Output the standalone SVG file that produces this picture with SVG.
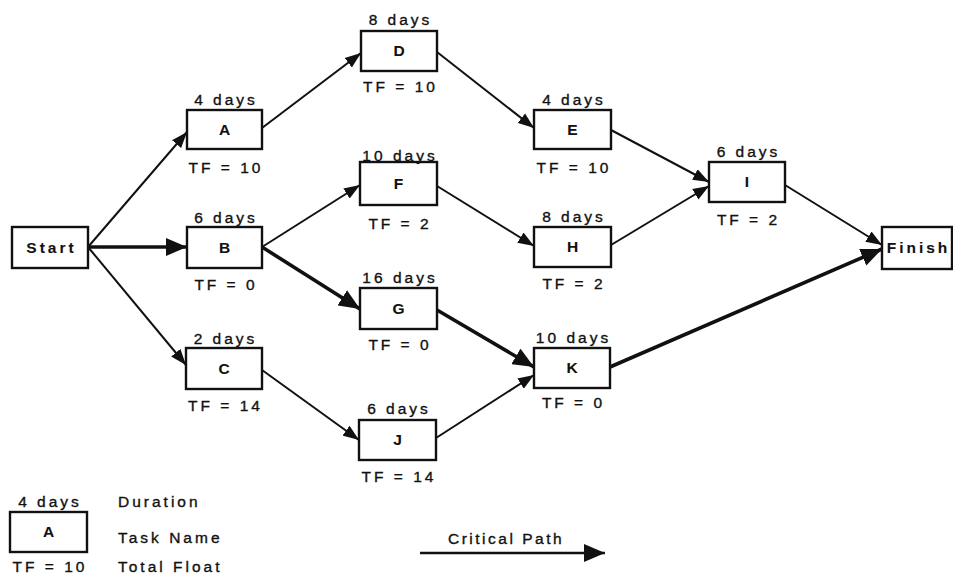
<svg xmlns="http://www.w3.org/2000/svg" width="953" height="576" viewBox="0 0 953 576">
<style>
text{font-family:"Liberation Sans",Arial,sans-serif;font-size:15.5px;letter-spacing:3px;fill:#111;stroke:#111;stroke-width:0.35}
.c{text-anchor:middle}
.b{font-weight:bold;stroke-width:0.1}
rect{fill:#fff;stroke:#111;stroke-width:2.4}
.ln{stroke:#111;stroke-width:2;fill:none;marker-end:url(#ah)}
.th{stroke:#111;stroke-width:3.6;fill:none;marker-end:url(#ahb)}
</style>
<defs>
<marker id="ah" markerUnits="userSpaceOnUse" markerWidth="17" markerHeight="13" refX="16" refY="6.5" orient="auto">
<path d="M0,0.5 L16,6.5 L0,12.5 Z" fill="#111"/>
</marker>
<marker id="ahb" markerUnits="userSpaceOnUse" markerWidth="22" markerHeight="18" refX="21" refY="9" orient="auto">
<path d="M0,0 L21,9 L0,18 Z" fill="#111"/>
</marker>
</defs>
<g id="connectors">
<line class="ln" x1="88" y1="247" x2="187" y2="132"/>
<line class="th" x1="88" y1="247" x2="187" y2="247"/>
<line class="ln" x1="88" y1="247" x2="186" y2="365"/>
<line class="ln" x1="262" y1="128" x2="361" y2="53"/>
<line class="ln" x1="262" y1="247" x2="360" y2="185"/>
<line class="th" x1="262" y1="247" x2="360" y2="309"/>
<line class="ln" x1="262" y1="370" x2="359" y2="440"/>
<line class="ln" x1="437" y1="52" x2="534" y2="128"/>
<line class="ln" x1="437" y1="186" x2="534" y2="246"/>
<line class="th" x1="437" y1="310" x2="534" y2="367"/>
<line class="ln" x1="436" y1="438" x2="534" y2="375"/>
<line class="ln" x1="611" y1="130" x2="709" y2="182"/>
<line class="ln" x1="611" y1="245" x2="709" y2="186"/>
<line class="ln" x1="785" y1="185" x2="882" y2="245"/>
<line class="th" x1="610" y1="367" x2="882" y2="249"/>
</g>
<g id="Start"><rect x="12" y="227" width="76" height="41"/><text class="c b" x="51.5" y="253">Start</text></g>
<g id="A"><rect x="187" y="110" width="75" height="39"/><text class="c b" x="226" y="135">A</text><text class="c" x="226" y="105">4 days</text><text class="c" x="226" y="173">TF = 10</text></g>
<g id="B"><rect x="187" y="227" width="75" height="41"/><text class="c b" x="226" y="253">B</text><text class="c" x="226" y="223">6 days</text><text class="c" x="226" y="290">TF = 0</text></g>
<g id="C"><rect x="186" y="348" width="76" height="41"/><text class="c b" x="225.5" y="374">C</text><text class="c" x="225.5" y="344">2 days</text><text class="c" x="225.5" y="411">TF = 14</text></g>
<g id="D"><rect x="361" y="31" width="76" height="40"/><text class="c b" x="400.5" y="56">D</text><text class="c" x="400.5" y="25">8 days</text><text class="c" x="400.5" y="92">TF = 10</text></g>
<g id="E"><rect x="534" y="110" width="77" height="39"/><text class="c b" x="574" y="135">E</text><text class="c" x="574" y="105">4 days</text><text class="c" x="574" y="173">TF = 10</text></g>
<g id="F"><rect x="360" y="162" width="77" height="43"/><text class="c b" x="400" y="189">F</text><text class="c" x="400" y="161">10 days</text><text class="c" x="400" y="229">TF = 2</text></g>
<g id="G"><rect x="360" y="288" width="77" height="41"/><text class="c b" x="400" y="314">G</text><text class="c" x="400" y="283">16 days</text><text class="c" x="400" y="350">TF = 0</text></g>
<g id="H"><rect x="534" y="227" width="77" height="40"/><text class="c b" x="574" y="252">H</text><text class="c" x="574" y="222">8 days</text><text class="c" x="574" y="289">TF = 2</text></g>
<g id="I"><rect x="709" y="162" width="76" height="40"/><text class="c b" x="748.5" y="187">I</text><text class="c" x="748.5" y="157">6 days</text><text class="c" x="748.5" y="225">TF = 2</text></g>
<g id="J"><rect x="359" y="420" width="77" height="40"/><text class="c b" x="399" y="445">J</text><text class="c" x="399" y="414">6 days</text><text class="c" x="399" y="482">TF = 14</text></g>
<g id="K"><rect x="534" y="348" width="76" height="40"/><text class="c b" x="573.5" y="373">K</text><text class="c" x="573.5" y="343">10 days</text><text class="c" x="573.5" y="408">TF = 0</text></g>
<g id="Finish"><rect x="882" y="227" width="70" height="42"/><text class="c b" x="918.5" y="253">Finish</text></g>
<g id="legend">
<rect x="10" y="512" width="77" height="40"/>
<text class="c b" x="50" y="537">A</text>
<text class="c" x="50" y="507">4 days</text>
<text class="c" x="50" y="572">TF = 10</text>
<text x="118" y="507">Duration</text>
<text x="118" y="543">Task Name</text>
<text x="118" y="572">Total Float</text>
<text x="448" y="544" style="letter-spacing:2.5px">Critical Path</text>
<line x1="420" y1="553" x2="605" y2="553" stroke="#111" stroke-width="2.6" marker-end="url(#ahb)"/>
</g>
</svg>
